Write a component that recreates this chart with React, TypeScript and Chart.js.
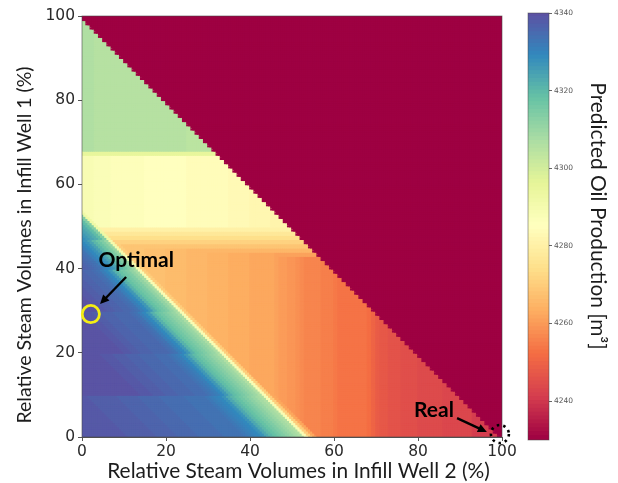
import React, { useEffect, useRef } from "react";
import { Chart, registerables } from "chart.js";

Chart.register(...registerables);

const xTitle = "Relative Steam Volumes in Infill Well 2 (%)";
const yTitle = "Relative Steam Volumes in Infill Well 1 (%)";
const barTitle = "Predicted Oil Production [m³]";
const GRID_SIZE = 100;
const CELL = 0.5;
const VALUE_MIN = 4230;
const VALUE_MAX = 4340;
const spectralStops = ["#9e0142", "#d53e4f", "#f46d43", "#fdae61", "#fee08b", "#ffffbf", "#e6f598", "#abdda4", "#66c2a5", "#3288bd", "#5e4fa2"];

// Values read along the diagonals of the lower-left triangle, from the bright ridge inwards, per group of rows.
const lowerRows0to9 = [4288, 4306, 4308, 4310, 4312, 4314, 4316, 4318, 4320, 4323, 4327, 4329, 4330, 4331, 4332, 4333, 4333, 4333, 4333, 4333, 4334, 4334, 4334, 4334, 4334, 4334, 4335, 4335, 4335, 4335, 4335, 4336, 4336, 4336, 4336, 4336, 4337, 4337, 4337, 4337, 4337, 4337, 4337, 4338];
const lowerRows10to19 = [4288, 4306, 4309, 4311, 4313, 4315, 4317, 4319, 4322, 4326, 4329, 4331, 4332, 4333, 4334, 4334, 4334, 4335, 4335, 4335, 4335, 4336, 4336, 4336, 4337, 4337, 4337, 4338, 4338, 4338, 4339];
const lowerRows20to29 = [4288, 4307, 4310, 4312, 4314, 4316, 4318, 4321, 4326, 4329, 4331, 4333, 4334, 4335, 4335, 4335, 4335, 4336, 4336, 4336, 4337, 4337, 4338, 4338, 4339];
const lowerRows30to39 = [4288, 4308, 4311, 4314, 4316, 4318, 4321, 4326, 4329, 4331, 4333, 4334, 4335, 4335, 4336, 4336, 4337, 4337, 4338, 4338, 4339];
const lowerRows40to46 = [4290, 4310, 4314, 4317, 4320, 4324, 4327, 4329, 4331, 4333, 4334, 4335, 4336, 4337, 4338];
const lowerRows47to53 = [4292, 4313, 4319, 4322, 4324, 4326, 4328, 4330, 4332, 4334];
const lowerRowGroups = [lowerRows0to9, lowerRows10to19, lowerRows20to29, lowerRows30to39, lowerRows40to46, lowerRows47to53];
const lowerRowGroupStarts = [0, 10, 20, 30, 40, 47];

// Orange area below the pale band, column by column.
const orangeColumns = [
  4268, 4268, 4268, 4268, 4268, 4268, 4268, 4268, 4268, 4268,
  4268, 4268, 4268, 4268, 4268, 4267, 4267, 4267, 4267, 4267,
  4266, 4266, 4266, 4266, 4266, 4265, 4265, 4265, 4265, 4265,
  4264, 4264, 4264, 4264, 4264, 4263, 4263, 4263, 4263, 4263,
  4262, 4262, 4262, 4262, 4262, 4262, 4261, 4260, 4260, 4259,
  4259, 4258, 4257, 4256, 4256, 4256, 4256, 4255, 4255, 4255,
  4254, 4253, 4253, 4253, 4253, 4253, 4253, 4253, 4252, 4250,
  4248, 4247, 4247, 4246, 4246, 4246, 4245, 4245, 4245, 4245,
  4244, 4244, 4244, 4244, 4244, 4244, 4243, 4243, 4243, 4243,
  4243, 4243, 4243, 4241, 4241, 4241, 4241, 4241, 4241, 4241,
];
// Rows 43 to 49: the step from orange up to the pale band.
const shoulderRows = [4261, 4265, 4268, 4271, 4274, 4277, 4280];
const SHOULDER_START = 43;
const ridgeFade = [4270, 4262];

// Pale band, rows 50 to 67.
const paleColumns = [
  4288, 4288, 4288, 4287, 4287, 4287, 4287, 4286, 4286, 4286,
  4286, 4286, 4286, 4286, 4286, 4285, 4285, 4285, 4285, 4285,
  4285, 4285, 4285, 4285, 4285, 4284, 4284, 4284, 4284, 4284,
  4284, 4284, 4284, 4284, 4284, 4283, 4283, 4283, 4283, 4283,
  4282, 4282, 4282, 4282, 4282, 4281, 4281, 4281, 4281, 4281,
];
const PALE_START = 50;
const PALE_TOP_ROW = 67;
const paleTopValue = 4295;

// Green wedge, rows 68 and up.
const greenColumns = [
  4306, 4306, 4306, 4305, 4305, 4305, 4305, 4305, 4305, 4305, 4305,
  4305, 4305, 4305, 4305, 4305, 4305, 4305, 4305, 4305, 4305, 4305, 4305, 4305, 4305,
  4304, 4304, 4304, 4304, 4304, 4304, 4304,
];
const outsideValue = 4230;
const RIDGE = 53;
const EDGE = 98;

const xTicksStep = 20;
const barTicks = [4240, 4260, 4280, 4300, 4320, 4340];

// Annotations, in data units of the heat map.
const optimalPoint = [2.1, 29.2];
const optimalLabel = { text: "Optimal", at: [12.9, 42] };
const optimalArrow = [[10.5, 38], [4.3, 31.6]];
const realPoint = [99.5, 0.7];
const realLabel = { text: "Real", at: [83.8, 6.4] };
const realArrow = [[89.3, 4.5], [96.4, 1.2]];

function cellValue(x: number, y: number): number {
  const i = Math.floor(x);
  const j = Math.floor(y);
  const s = Math.floor(x + y);
  if (i + j > EDGE) return outsideValue;
  if (s <= RIDGE && j <= RIDGE) {
    let g = 0;
    lowerRowGroupStarts.forEach((start, idx) => { if (j >= start) g = idx; });
    const prof = lowerRowGroups[g];
    return prof[Math.min(RIDGE - s, prof.length - 1)];
  }
  if (j >= 68) return greenColumns[Math.min(i, greenColumns.length - 1)];
  if (j === PALE_TOP_ROW) return paleTopValue;
  if (j >= PALE_START) return paleColumns[Math.min(i, paleColumns.length - 1)];
  let v = orangeColumns[i];
  if (j >= SHOULDER_START) v = Math.max(v, shoulderRows[j - SHOULDER_START]);
  const fade = ridgeFade[s - RIDGE - 1];
  if (fade !== undefined) v = Math.max(v, fade);
  return v;
}

function hex(c: string) {
  return [1, 3, 5].map((k) => parseInt(c.slice(k, k + 2), 16));
}
function spectral(v: number): string {
  const t = Math.min(1, Math.max(0, (v - VALUE_MIN) / (VALUE_MAX - VALUE_MIN))) * (spectralStops.length - 1);
  const k = Math.min(spectralStops.length - 2, Math.floor(t));
  const a = hex(spectralStops[k]);
  const b = hex(spectralStops[k + 1]);
  const f = t - k;
  return `rgb(${a.map((q, n) => Math.round(q + (b[n] - q) * f)).join(",")})`;
}

const labelFont = "bold 21px Lato";

function arrow(ctx: CanvasRenderingContext2D, x0: number, y0: number, x1: number, y1: number) {
  const a = Math.atan2(y1 - y0, x1 - x0);
  const head = 10;
  const bx = x1 - Math.cos(a) * head * 0.8;
  const by = y1 - Math.sin(a) * head * 0.8;
  ctx.strokeStyle = "#000";
  ctx.fillStyle = "#000";
  ctx.lineWidth = 2.4;
  ctx.setLineDash([]);
  ctx.beginPath();
  ctx.moveTo(x0, y0);
  ctx.lineTo(bx, by);
  ctx.stroke();
  ctx.beginPath();
  ctx.moveTo(x1, y1);
  ctx.lineTo(x1 - Math.cos(a - 0.45) * head, y1 - Math.sin(a - 0.45) * head);
  ctx.lineTo(x1 - Math.cos(a + 0.45) * head, y1 - Math.sin(a + 0.45) * head);
  ctx.closePath();
  ctx.fill();
}

const heatOverlay = {
  id: "heatOverlay",
  afterDraw(chart: any) {
    const { ctx, chartArea, scales } = chart;
    const px = (p: number[]) => [scales.x.getPixelForValue(p[0]), scales.y.getPixelForValue(p[1])];
    ctx.save();
    ctx.strokeStyle = "rgba(70,70,70,0.7)";
    ctx.lineWidth = 0.8;
    ctx.strokeRect(chartArea.left, chartArea.top, chartArea.right - chartArea.left, chartArea.bottom - chartArea.top);

    ctx.textAlign = "center";
    ctx.textBaseline = "middle";
    ctx.fillStyle = "#1c1c1c";
    ctx.font = "20.9px Lato";
    ctx.fillText(xTitle, 298.5, 471);
    ctx.font = "19.5px Lato";
    ctx.save();
    ctx.translate(25, 245);
    ctx.rotate(-Math.PI / 2);
    ctx.fillText(yTitle, 0, 0);
    ctx.restore();

    ctx.fillStyle = "#000";
    ctx.font = labelFont;
    for (const l of [optimalLabel, realLabel]) {
      const [lx, ly] = px(l.at);
      ctx.fillText(l.text, lx, ly);
    }
    for (const a of [optimalArrow, realArrow]) {
      const [x0, y0] = px(a[0]);
      const [x1, y1] = px(a[1]);
      arrow(ctx, x0, y0, x1, y1);
    }
    const [ox, oy] = px(optimalPoint);
    ctx.strokeStyle = "#f4ee14";
    ctx.lineWidth = 2.8;
    ctx.beginPath();
    ctx.arc(ox, oy, 8.6, 0, Math.PI * 2);
    ctx.stroke();
    const [rx, ry] = px(realPoint);
    ctx.strokeStyle = "#000";
    ctx.lineWidth = 2.6;
    ctx.setLineDash([2.5, 4]);
    ctx.beginPath();
    ctx.arc(rx, ry, 9, 0, Math.PI * 2);
    ctx.stroke();
    ctx.restore();
  },
};

const barOverlay = {
  id: "barOverlay",
  afterDraw(chart: any) {
    const { ctx, chartArea } = chart;
    ctx.save();
    ctx.strokeStyle = "rgba(70,70,70,0.6)";
    ctx.lineWidth = 0.8;
    ctx.strokeRect(chartArea.left, chartArea.top, chartArea.right - chartArea.left, chartArea.bottom - chartArea.top);
    ctx.translate(78, 216);
    ctx.rotate(Math.PI / 2);
    ctx.textAlign = "center";
    ctx.textBaseline = "middle";
    ctx.fillStyle = "#1c1c1c";
    ctx.font = "20.9px Lato";
    ctx.fillText(barTitle, 0, 0);
    ctx.restore();
  },
};

export default function App() {
  const heatRef = useRef<HTMLCanvasElement>(null);
  const barRef = useRef<HTMLCanvasElement>(null);

  useEffect(() => {
    const points: { x: number; y: number }[] = [];
    const colors: string[] = [];
    const n = GRID_SIZE / CELL;
    for (let b = 0; b < n; b++) {
      for (let a = 0; a < n; a++) {
        const x = a * CELL;
        const y = b * CELL;
        points.push({ x: x + CELL / 2, y: y + CELL / 2 });
        colors.push(spectral(cellValue(x, y)));
      }
    }
    const tickColor = "#2a2a2a";
    const axisColor = "#555";
    const heat = new Chart(heatRef.current!, {
      type: "scatter",
      data: {
        datasets: [{
          data: points,
          pointStyle: "rect",
          pointRadius: 2.7,
          pointBorderWidth: 0,
          pointBackgroundColor: colors,
          showLine: false,
        }],
      },
      options: {
        animation: false,
        responsive: false,
        layout: { padding: { left: 0, top: 16, right: 18, bottom: 0 } },
        plugins: { legend: { display: false }, tooltip: { enabled: false } },
        scales: {
          x: {
            type: "linear", min: 0, max: GRID_SIZE,
            afterFit: (s: any) => { s.height = 46; },
            ticks: { stepSize: xTicksStep, color: tickColor, font: { family: "DejaVu Sans", size: 15.5 }, padding: 2, maxRotation: 0 },
            grid: { drawOnChartArea: false, drawTicks: true, tickLength: 4, color: axisColor },
            border: { display: true, color: axisColor },
          },
          y: {
            type: "linear", min: 0, max: GRID_SIZE,
            afterFit: (s: any) => { s.width = 82; },
            ticks: { stepSize: xTicksStep, color: tickColor, font: { family: "DejaVu Sans", size: 15.5 }, padding: 3 },
            grid: { drawOnChartArea: false, drawTicks: true, tickLength: 4, color: axisColor },
            border: { display: true, color: axisColor },
          },
        },
      },
      plugins: [heatOverlay],
    } as any);

    const levels: number[] = [];
    for (let v = VALUE_MIN; v < VALUE_MAX; v += 1) levels.push(v);
    const bar = new Chart(barRef.current!, {
      type: "bar",
      data: {
        labels: ["colorbar"],
        datasets: levels.map((v) => ({
          data: [[v, Math.min(VALUE_MAX, v + 1.2)]],
          backgroundColor: spectral(v + 0.5),
          borderWidth: 0,
          barPercentage: 1,
          categoryPercentage: 1,
          grouped: false,
        })),
      },
      options: {
        animation: false,
        responsive: false,
        layout: { padding: { left: 8, top: 13, right: 0, bottom: 43 } },
        plugins: { legend: { display: false }, tooltip: { enabled: false } },
        scales: {
          x: { display: false },
          y: {
            position: "right", min: VALUE_MIN, max: VALUE_MAX,
            afterFit: (s: any) => { s.width = 69; },
            afterBuildTicks: (s: any) => {
              s.ticks = barTicks.map((value) => ({ value }));
            },
            ticks: { color: "#555", font: { family: "DejaVu Sans", size: 7.5 }, padding: 2, callback: (v: any) => String(v) },
            grid: { drawOnChartArea: false, drawTicks: true, tickLength: 3, color: "#666" },
            border: { display: false },
          },
        },
      },
      plugins: [barOverlay],
    } as any);

    return () => {
      heat.destroy();
      bar.destroy();
    };
  }, []);

  return (
    <div style={{ position: "absolute", left: 0, top: 0, width: 618, height: 483, background: "#fff", overflow: "hidden" }}>
      <canvas ref={heatRef} width={520} height={483} style={{ position: "absolute", left: 0, top: 0, width: 520, height: 483, filter: "blur(0.5px)" }} />
      <canvas ref={barRef} width={98} height={483} style={{ position: "absolute", left: 520, top: 0, width: 98, height: 483, filter: "blur(0.5px)" }} />
    </div>
  );
}
